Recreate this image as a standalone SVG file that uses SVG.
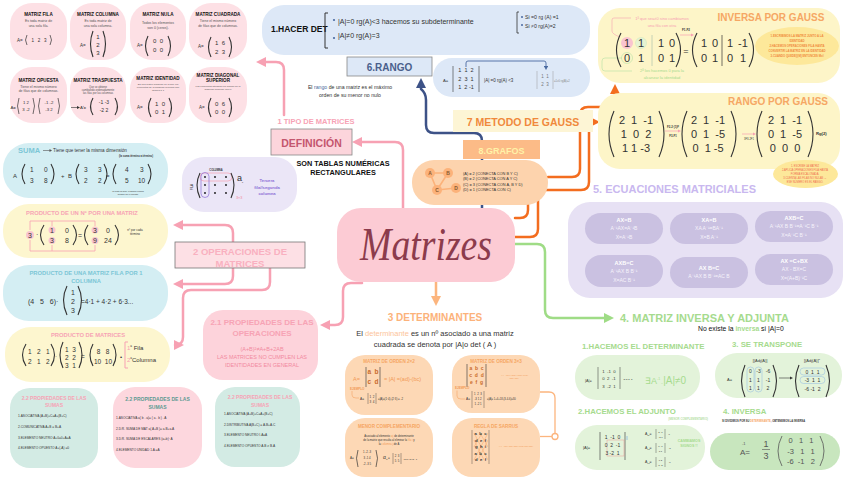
<svg xmlns="http://www.w3.org/2000/svg" width="848" height="477" viewBox="0 0 848 477">
<defs>
<style>
svg{fill:#333}
text{font-family:"Liberation Sans",Arial,sans-serif}
.c{text-anchor:middle}
.e{text-anchor:end}
.b{font-weight:bold}
.pr{fill:none;stroke:#333;stroke-width:0.7}
.prb{fill:none;stroke:#333;stroke-width:1.1}
.pk{fill:#fde0e5}
.cy{fill:#d4eef3}
.yl{fill:#fdf6cf}
.gt{fill:#d3ebe4}
.pe{fill:#fdd8b5}
.gr{fill:#e3f3da}
.eq{fill:#cac1e1}
.con{fill:none;stroke-width:2.5;stroke-linecap:round;stroke-linejoin:round}
.tt{font-size:4.6px;font-weight:bold;fill:#111}
.st{font-size:3.5px;fill:#555}
.ph{font-weight:bold;fill:#f7a3b5}
.et{font-size:5px;fill:#f6f3fb;text-anchor:middle}
.eb{font-size:5.5px;font-weight:bold;fill:#fff;text-anchor:middle}
.gh{font-weight:bold;fill:#a6db8e}
.oh{font-weight:bold;fill:#f6a764}
.scr{font-family:"Liberation Serif","DejaVu Serif",serif;font-style:italic}
</style>
<marker id="ap" viewBox="0 0 10 10" refX="3" refY="5" markerWidth="4" markerHeight="4" orient="auto"><path d="M0,0 L10,5 L0,10 z" fill="#f7a1b3"/></marker>
<marker id="ab" viewBox="0 0 10 10" refX="3" refY="5" markerWidth="4" markerHeight="4" orient="auto"><path d="M0,0 L10,5 L0,10 z" fill="#3d5287"/></marker>
<marker id="ao" viewBox="0 0 10 10" refX="3" refY="5" markerWidth="4" markerHeight="4" orient="auto"><path d="M0,0 L10,5 L0,10 z" fill="#f36d1f"/></marker>
<marker id="ag" viewBox="0 0 10 10" refX="3" refY="5" markerWidth="4" markerHeight="4" orient="auto"><path d="M0,0 L10,5 L0,10 z" fill="#9fdc86"/></marker>
<marker id="ape" viewBox="0 0 10 10" refX="3" refY="5" markerWidth="4" markerHeight="4" orient="auto"><path d="M0,0 L10,5 L0,10 z" fill="#fcb57e"/></marker>
<marker id="asb" viewBox="0 0 10 10" refX="3" refY="5" markerWidth="5" markerHeight="5" orient="auto"><path d="M0,0 L10,5 L0,10 z" fill="#4a6aa0"/></marker>
</defs>
<rect width="848" height="477" fill="#ffffff"/>

<!-- connectors -->
<g id="connectors">
<path class="con" stroke="#f7a1b3" d="M403 208 V150 Q403 142 395 142 H359" marker-end="url(#ap)"/>
<path class="con" stroke="#f7a1b3" d="M284 115 V70 Q284 62 276 62 H263" marker-end="url(#ap)"/>
<path class="con" stroke="#f7a1b3" d="M233 242 V233 Q233 225 225 225 H180" marker-end="url(#ap)"/>
<path class="con" stroke="#f7a1b3" d="M233 268 V276 Q233 284 225 284 H180" marker-end="url(#ap)"/>
<path class="con" stroke="#f7a1b3" d="M270 268 V282 Q270 290 262 290 H191 Q183 290 183 298 V337 Q183 345 175 345 H177" marker-end="url(#ap)"/>
<path class="con" stroke="#f7a1b3" d="M362 283 H351 Q343 283 343 291 V317 Q343 325 335 325 H327" marker-end="url(#ap)"/>
<path class="con" stroke="#3d5287" d="M482 208 V141 Q482 133 474 133 H434 Q426 133 426 125 V100 Q426 93 421 89 V85" marker-end="url(#ab)"/>
<path class="con" stroke="#f36d1f" d="M548 177 H572 Q580 177 580 169 V115 Q580 107 588 107 H607 Q615 107 615 99 V91" marker-end="url(#ao)"/>
<path class="con" stroke="#f36d1f" d="M515 237 H530 Q538 237 538 229 V198 Q538 190 546 190 H581 Q589 190 589 182 V130 Q589 122 593 122" marker-end="url(#ao)"/>
<path class="con" stroke="#f36d1f" d="M515 218 H520 Q528 218 528 210 V204"/>
<path class="con" stroke="#9fdc86" d="M515 244 H537 Q545 244 545 252 V310 Q545 318 553 318 H607" marker-end="url(#ag)"/>
<path class="con" stroke="#fcb57e" d="M436 282 V299" marker-end="url(#ape)"/>
<path fill="none" stroke="#fcb57e" stroke-width="1.3" d="M540 392 H549 Q555 392 555 398 V433"/>
<circle cx="555" cy="436.5" r="3" fill="none" stroke="#fcb57e" stroke-width="1.3"/>
<path fill="none" stroke="#fcb57e" stroke-width="1.3" d="M552 436.5 H540"/>
</g>

<!-- top-left types -->
<g id="matriz-fila">
<rect x="10" y="3" width="57" height="57" rx="22" class="pk"/>
<text x="38.5" y="16" class="c tt">MATRIZ FILA</text>
<text x="38.5" y="22" class="c st">Es toda matriz de</text>
<text x="38.5" y="26.5" class="c st">una sola fila.</text>
<text x="17" y="42" font-size="4.5">A=</text>
<path class="pr" d="M27 35 Q24 40 27 45"/>
<text x="39" y="42" class="c" font-size="4.5" xml:space="preserve">1   2   3</text>
<path class="pr" d="M50 35 Q53 40 50 45"/>
</g>
<g id="matriz-columna">
<rect x="70" y="3" width="56" height="57" rx="22" class="pk"/>
<text x="98" y="16" class="c tt">MATRIZ COLUMNA</text>
<text x="98" y="22" class="c st">Es toda matriz de</text>
<text x="98" y="26.5" class="c st">una sola columna.</text>
<text x="80" y="47" font-size="4.5">A=</text>
<path class="prb" d="M93 31 Q88 44 93 57"/>
<text x="98" y="39" class="c" font-size="6">1</text>
<text x="98" y="47" class="c" font-size="6">2</text>
<text x="98" y="55" class="c" font-size="6">3</text>
<path class="prb" d="M103 31 Q108 44 103 57"/>
</g>
<g id="matriz-nula">
<rect x="130" y="3" width="56" height="57" rx="22" class="pk"/>
<text x="158" y="16" class="c tt">MATRIZ NULA</text>
<text x="158" y="24" class="c st">Todos los elementos</text>
<text x="158" y="28.5" class="c st">son 0 (ceros).</text>
<text x="137" y="47" font-size="4.5">A=</text>
<path class="prb" d="M148 36 Q143 46 148 56"/>
<text x="158" y="43" class="c" font-size="6" xml:space="preserve">0  0</text>
<text x="158" y="52" class="c" font-size="6" xml:space="preserve">0  0</text>
<path class="prb" d="M168 36 Q173 46 168 56"/>
</g>
<g id="matriz-cuadrada">
<rect x="189" y="3" width="58" height="57" rx="22" class="pk"/>
<text x="218" y="16" class="c tt">MATRIZ CUADRADA</text>
<text x="218" y="22" class="c st">Tiene el mismo número</text>
<text x="218" y="26.5" class="c st">de filas que de columnas.</text>
<text x="198" y="48" font-size="4.5">A=</text>
<path class="prb" d="M211 37 Q206 47 211 57"/>
<text x="220" y="45" class="c" font-size="6" xml:space="preserve">1  6</text>
<text x="220" y="54" class="c" font-size="6" xml:space="preserve">2  3</text>
<path class="prb" d="M229 37 Q234 47 229 57"/>
</g>
<g id="matriz-opuesta">
<rect x="10" y="67" width="57" height="56" rx="22" class="pk"/>
<text x="38.5" y="82" class="c tt">MATRIZ OPUESTA</text>
<text x="38.5" y="87.5" class="c st">Tiene el mismo número</text>
<text x="38.5" y="92" class="c st">de filas que de columnas.</text>
<text x="10.5" y="109" font-size="4.3">A=</text>
<path class="pr" d="M19 98 Q16 106 19 114"/>
<text x="26" y="104" class="c" font-size="4.3" xml:space="preserve">1 2</text>
<text x="26" y="111" class="c" font-size="4.3">3 -2</text>
<path class="pr" d="M33 98 Q36 106 33 114"/>
<path class="pr" d="M40 98 Q37 106 40 114"/>
<text x="49" y="104" class="c" font-size="4.3">-1 -2</text>
<text x="49" y="111" class="c" font-size="4.3">-3  2</text>
<path class="pr" d="M58 98 Q61 106 58 114"/>
</g>
<g id="matriz-traspuesta">
<rect x="70" y="67" width="56" height="56" rx="22" class="pk"/>
<text x="98" y="82" class="c tt">MATRIZ TRASPUESTA</text>
<text x="98" y="87.5" class="c" font-size="2.7" fill="#555">Que se obtiene</text>
<text x="98" y="90.8" class="c" font-size="2.7" fill="#555">cambiando ordenadamente</text>
<text x="98" y="94" class="c" font-size="2.7" fill="#555">las filas por las columnas</text>
<path d="M71 107.5 H78" stroke="#333" stroke-width="0.6"/>
<path d="M77 106 L80 107.5 L77 109 z" fill="#333"/>
<text x="80" y="109" font-size="4.3">A<tspan font-size="2.5" dy="-2">t</tspan><tspan dy="2">=</tspan></text>
<path class="prb" d="M93 98 Q88 106.5 93 115"/>
<text x="104" y="104" class="c" font-size="5">-1 -3</text>
<text x="104" y="112" class="c" font-size="5">-2  2</text>
<path class="prb" d="M115 98 Q120 106.5 115 115"/>
</g>
<g id="matriz-identidad">
<rect x="130" y="67" width="56" height="56" rx="22" class="pk"/>
<text x="158" y="80" class="c tt">MATRIZ IDENTIDAD</text>
<text x="158" y="85" class="c" font-size="2.5" fill="#555">Es una matriz diagonal en la que los</text>
<text x="158" y="88" class="c" font-size="2.5" fill="#555">elementos de la diagonal principal son</text>
<text x="158" y="91" class="c" font-size="2.5" fill="#555">iguales a 1</text>
<text x="137" y="109" font-size="4.5">A=</text>
<path class="prb" d="M151 98 Q146 107.5 151 117"/>
<text x="160" y="105.5" class="c" font-size="6" xml:space="preserve">1  0</text>
<text x="160" y="114" class="c" font-size="6" xml:space="preserve">0  1</text>
<path class="prb" d="M169 98 Q174 107.5 169 117"/>
</g>
<g id="matriz-diagonal-superior">
<rect x="189" y="67" width="58" height="56" rx="22" class="pk"/>
<text x="218" y="77" class="c tt">MATRIZ DIAGONAL</text>
<text x="218" y="82" class="c tt">SUPERIOR</text>
<text x="218" y="87" class="c" font-size="2.5" fill="#555">Los elementos situados por debajo de la</text>
<text x="218" y="90" class="c" font-size="2.5" fill="#555">diagonal principal, son 0</text>
<text x="199" y="109" font-size="4.5">A=</text>
<path class="prb" d="M211 98 Q206 107.5 211 117"/>
<text x="220" y="105.5" class="c" font-size="6" xml:space="preserve">0  6</text>
<text x="220" y="114" class="c" font-size="6" xml:space="preserve">0  0</text>
<path class="prb" d="M229 98 Q234 107.5 229 117"/>
</g>

<!-- operations column -->
<g id="suma">
<rect x="3" y="143" width="165" height="55" rx="26" class="cy"/>
<text x="18" y="153" font-size="7.5" font-weight="bold" fill="#7cc6d6">SUMA</text>
<path d="M43 150.5 H50" stroke="#555" stroke-width="0.6"/><path d="M49.5 149 L52 150.5 L49.5 152 z" fill="#555"/>
<text x="53" y="152" font-size="4.6">Tiene que tener la misma dimensión</text>
<text x="153" y="157" class="e b" font-size="2.6">(la suma término a término)</text>
<text x="13" y="178" font-size="6">A</text>
<path class="prb" d="M25 164 Q19 174 25 184"/>
<text x="30" y="172" font-size="6.5">1</text><text x="44" y="172" font-size="6.5">0</text>
<text x="30" y="182.5" font-size="6.5">3</text><text x="44" y="182.5" font-size="6.5">8</text>
<path class="prb" d="M51 164 Q57 174 51 184"/>
<text x="61" y="178" font-size="6">+</text>
<text x="68" y="178" font-size="6">B</text>
<path class="prb" d="M79 164 Q73 174 79 184"/>
<text x="84" y="172" font-size="6.5">3</text><text x="98" y="172" font-size="6.5">3</text>
<text x="84" y="182.5" font-size="6.5">2</text><text x="98" y="182.5" font-size="6.5">2</text>
<path class="prb" d="M104 164 Q110 174 104 184"/>
<text x="106" y="178" font-size="6">=</text>
<path class="prb" d="M116 164 Q110 174 116 184"/>
<text x="125" y="172" font-size="6.5">4</text><text x="140" y="172" font-size="6.5">3</text>
<text x="125" y="182.5" font-size="6.5">5</text><text x="138" y="182.5" font-size="6.5">10</text>
<path class="prb" d="M148 164 Q154 174 148 184"/>
<text x="128" y="192" class="c" font-size="2">La resta es igual, o también puedes</text>
<text x="128" y="195" class="c" font-size="2">sumarle por el opuesto</text>
</g>
<g id="producto-escalar">
<rect x="3" y="204" width="165" height="54" rx="26" class="yl"/>
<text x="82" y="215" class="c ph" font-size="5.8">PRODUCTO DE UN Nº POR UNA MATRIZ</text>
<path fill="none" stroke="#f7a1b3" stroke-width="0.8" d="M30 230 V221 H95 V226 M52 221 V226 M30 240 V251 H95 V245 M52 251 V245"/>
<circle cx="30" cy="235" r="4" fill="#f9c4cf"/>
<text x="30" y="237.5" class="c" font-size="7">3</text>
<text x="36" y="237" font-size="7">·</text>
<path class="prb" d="M44 225 Q37 235 44 245"/>
<circle cx="52" cy="230" r="3.5" fill="#f9c4cf"/><circle cx="52" cy="240.5" r="3.5" fill="#f9c4cf"/>
<text x="52" y="232.5" class="c" font-size="7">1</text><text x="67" y="232.5" class="c" font-size="7">0</text>
<text x="52" y="243" class="c" font-size="7">3</text><text x="67" y="243" class="c" font-size="7">8</text>
<path class="prb" d="M73 225 Q80 235 73 245"/>
<text x="78" y="237.5" font-size="7">=</text>
<path class="prb" d="M88 225 Q81 235 88 245"/>
<circle cx="95" cy="230" r="3.5" fill="#f9c4cf"/><circle cx="95" cy="240.5" r="3.5" fill="#f9c4cf"/>
<text x="95" y="232.5" class="c" font-size="7">3</text><text x="108" y="232.5" class="c" font-size="7">0</text>
<text x="95" y="243" class="c" font-size="7">9</text><text x="108" y="243" class="c" font-size="7">24</text>
<path class="prb" d="M115 225 Q122 235 115 245"/>
<text x="135" y="231" class="c" font-size="3">nº por cada</text>
<text x="135" y="235" class="c" font-size="3">término</text>
</g>
<g id="producto-fila-columna">
<rect x="3" y="265" width="165" height="56" rx="26" class="cy"/>
<text x="86" y="275" class="c b" font-size="5.8" fill="#7cc6d6">PRODUCTO DE  UNA MATRIZ FILA POR 1</text>
<text x="86" y="283" class="c b" font-size="5.8" fill="#7cc6d6">COLUMNA</text>
<text x="28" y="304" font-size="7" xml:space="preserve">(4   5   6)·</text>
<path class="prb" d="M67 286 Q60 300 67 315"/>
<text x="73" y="295" class="c" font-size="7">1</text>
<text x="73" y="304" class="c" font-size="7">2</text>
<text x="73" y="313" class="c" font-size="7">3</text>
<path class="prb" d="M78 286 Q85 300 78 315"/>
<text x="81" y="304" font-size="6.5">=4·1 + 4·2 + 6·3...</text>
</g>
<g id="producto-matrices">
<rect x="5" y="327" width="165" height="55" rx="26" class="yl"/>
<text x="88" y="337" class="c ph" font-size="5.8">PRODUCTO DE  MATRICES</text>
<path class="prb" d="M26 344 Q19 355 26 366"/>
<text x="28" y="354" font-size="6.5" xml:space="preserve">1   2   1</text>
<text x="28" y="364" font-size="6.5" xml:space="preserve">2   1   2</text>
<path class="prb" d="M51 344 Q58 355 51 366"/>
<text x="55" y="358" font-size="6">·</text>
<path class="prb" d="M63 342 Q57 355 63 368"/>
<text x="65" y="352" font-size="6.5" xml:space="preserve">1  3</text>
<text x="65" y="360" font-size="6.5" xml:space="preserve">2  2</text>
<text x="65" y="368" font-size="6.5" xml:space="preserve">3  1</text>
<path class="prb" d="M79 342 Q85 355 79 368"/>
<text x="81" y="359" font-size="6.5">=</text>
<path class="prb" d="M93 344 Q87 355 93 366"/>
<text x="103" y="354" class="c" font-size="6.5" xml:space="preserve">8   8</text>
<text x="103" y="364" class="c" font-size="6.5" xml:space="preserve">10  10</text>
<path class="prb" d="M113 344 Q119 355 113 366"/>
<text x="120" y="359" font-size="6">•</text>
<path fill="none" stroke="#f7a1b3" stroke-width="1" d="M128 342 H125 V368 H128"/>
<text x="127" y="350" font-size="6"><tspan fill="#f7a1b3">1</tspan><tspan font-size="3" dy="-3">a</tspan><tspan dy="3"> Fila</tspan></text>
<text x="127" y="362" font-size="6"><tspan fill="#f7a1b3">2</tspan><tspan font-size="3" dy="-3">a</tspan><tspan dy="3">Columna</tspan></text>
</g>
<g id="propiedades-sumas-1">
<rect x="10" y="388" width="88" height="80" rx="20" class="gt"/>
<text x="54" y="400" class="c ph" font-size="5">2.2 PROPIEDADES DE LAS</text>
<text x="54" y="407" class="c ph" font-size="5">SUMAS</text>
<text x="18" y="417" font-size="3.2">1.ASOCIATIVA (A+B)+C=A+(B+C)</text>
<text x="18" y="428" font-size="3.2">2.COMUNICATIVA A+B = B+A</text>
<text x="18" y="438.5" font-size="3.2">3.ELEMENTO NEUTRO A+0=0+A=A</text>
<text x="18" y="449" font-size="3.2">4.ELEMENTO OPUESTO A+(-A) =0</text>
</g>
<g id="propiedades-sumas-2">
<rect x="113" y="387" width="89" height="81" rx="22" fill="#fdd7de"/>
<text x="157.5" y="401" class="c b" font-size="5" fill="#5e9a92">2.2 PROPIEDADES DE LAS</text>
<text x="157.5" y="408.5" class="c b" font-size="5" fill="#5e9a92">SUMAS</text>
<text x="116" y="419" font-size="3.2">1.ASOCIATIVA a( b . a)= ( a . b ) . A</text>
<text x="116" y="429.5" font-size="3.2">2.D.R. SUMA DE  MAT a( A+B )= a.B+a.A</text>
<text x="116" y="440" font-size="3.2">3.D.R. SUMA DE ESCALARES (a+b)· A</text>
<text x="116" y="450.5" font-size="3.2">4.ELEMENTO UNIDAD 1.A =A</text>
</g>
<g id="propiedades-sumas-3">
<rect x="215" y="387" width="85" height="80" rx="20" class="gt"/>
<text x="260" y="399" class="c ph" font-size="5">2.2 PROPIEDADES DE LAS</text>
<text x="260" y="406.5" class="c ph" font-size="5">SUMAS</text>
<text x="224" y="415" font-size="3.2">1.ASOCIATIVA (A+B)+C=A+(B+C)</text>
<text x="224" y="425.5" font-size="3.2">2.DISTRIBUTIVA  A(B+C) = A.B+A.C</text>
<text x="224" y="436" font-size="3.2">3.ELEMENTO NEUTRO I.A=A</text>
<text x="224" y="446.5" font-size="3.2">4.ELEMENTO OPUESTO A.B ≠ B.A</text>
</g>
<g id="propiedades-operaciones">
<rect x="203" y="310" width="115" height="70" rx="20" fill="#fdd3db"/>
<text x="262" y="325" class="c ph" font-size="8">2.1 PROPIEDADES DE LAS</text>
<text x="262" y="336" class="c ph" font-size="8">OPERACIONES</text>
<text x="262" y="351" class="c" font-size="5.5" fill="#f28aa0">(A+B)²≠A+B+2AB</text>
<text x="262" y="359" class="c" font-size="5.5" fill="#f28aa0">LAS MATRICES NO CUMPLEN LAS</text>
<text x="262" y="367" class="c" font-size="5.5" fill="#f28aa0">IDENTIDADES EN GENERAL</text>
</g>
<g id="operaciones">
<rect x="175" y="242" width="130" height="26" fill="#fde0e5" stroke="#777" stroke-width="0.8"/>
<text x="240" y="255" class="c b" font-size="9.5" fill="#f9b0c0">2 OPERACIONES DE</text>
<text x="240" y="267" class="c b" font-size="9.5" fill="#f9b0c0">MATRICES</text>
</g>

<!-- definition -->
<g id="tipo-matrices">
<text x="316" y="124" class="c ph" font-size="7.5">1 TIPO DE MATRICES</text>
</g>
<g id="definicion">
<rect x="271" y="129" width="81" height="26" fill="#fcd5dc" stroke="#888" stroke-width="0.8"/>
<text x="311.5" y="147" class="c b" font-size="10.5" fill="#c4566e">DEFINICIÓN</text>
<text x="343" y="166" class="c b" font-size="7.3" fill="#111">SON TABLAS NUMÉRICAS</text>
<text x="343" y="175" class="c b" font-size="7.3" fill="#111">RECTANGULARES</text>
</g>
<g id="fila-columna">
<rect x="182" y="157" width="115" height="55" rx="22" fill="#ebe6f7"/>
<text transform="translate(193,187) rotate(-90)" class="c b" font-size="2.6">FILA</text>
<text x="216" y="171" class="c b" font-size="2.6">COLUMNA</text>
<path class="prb" d="M200 173 Q194 185 200 198"/>
<rect x="200" y="173" width="32" height="8" rx="4" fill="none" stroke="#f7a1b3" stroke-width="0.7"/>
<rect x="201" y="172.5" width="8" height="25" rx="4" fill="none" stroke="#8b6fd6" stroke-width="0.7"/>
<g fill="#111"><circle cx="205" cy="177" r="0.9"/><circle cx="215" cy="177" r="0.9"/><circle cx="226" cy="177" r="0.9"/>
<circle cx="205" cy="185" r="0.9"/><circle cx="215" cy="185" r="0.9"/><circle cx="226" cy="185" r="0.9"/>
<circle cx="205" cy="193" r="0.9"/><circle cx="215" cy="193" r="0.9"/><circle cx="226" cy="193" r="0.9"/></g>
<path class="prb" d="M231 173 Q237 185 231 198"/>
<text x="237" y="181" font-size="9">a<tspan font-size="2.5" dy="1.5">ij</tspan></text>
<text x="236" y="199" font-size="3.8" fill="#f28aa0">3×3</text>
<text x="267" y="182" class="c b" font-size="4.2" fill="#8b6fd6">Tercera</text>
<text x="267" y="188.5" class="c b" font-size="4.2" fill="#8b6fd6">fila//segunda</text>
<text x="267" y="195" class="c b" font-size="4.2" fill="#8b6fd6">columna</text>
</g>

<!-- center -->
<g id="matrizes">
<rect x="337" y="208" width="178" height="74" rx="24" fill="#fccbd4"/>
<text x="426" y="260" class="c scr" font-size="46" fill="#8c3b4c" textLength="132" lengthAdjust="spacingAndGlyphs">Matrizes</text>
</g>

<!-- rango -->
<g id="hacer-det">
<rect x="262" y="5" width="328" height="50" rx="22" fill="#dde8f7"/>
<text x="271" y="32" class="b" font-size="8.5" fill="#111">1.HACER DET</text>
<path fill="none" stroke="#333" stroke-width="1" d="M328 13 H325 V48 H328"/>
<circle cx="334" cy="20" r="1.1" fill="#4a6aa0"/>
<text x="338" y="24" font-size="7">|A|=0 rg(A)&lt;3  hacemos su subdeterminante</text>
<path fill="none" stroke="#333" stroke-width="0.8" d="M519 12 H517 V33 H519"/>
<circle cx="522" cy="17" r="1" fill="#4a6aa0"/>
<text x="525" y="19" font-size="5.2">Si =0 rg (A) =1</text>
<circle cx="522" cy="25" r="1" fill="#4a6aa0"/>
<text x="525" y="28" font-size="5.2">Si ≠0 rg(A)=2</text>
<circle cx="334" cy="38" r="1.1" fill="#4a6aa0"/>
<text x="338" y="38" font-size="7">|A|≠0 rg(A)=3</text>
</g>
<g id="rango">
<rect x="347" y="57" width="85" height="19" fill="#dde8f7" stroke="#888" stroke-width="0.8"/>
<text x="389.5" y="71" class="c b" font-size="10" fill="#4a5f8c">6.RANGO</text>
<text x="350" y="89" class="c" font-size="5.2">El <tspan fill="#4a6aa0">rango</tspan> de una matriz es el máximo</text>
<text x="350" y="97" class="c" font-size="5.2">orden de su menor no nulo</text>
</g>
<g id="rango-ejemplo">
<rect x="433" y="58" width="157" height="39" rx="19" fill="#dde8f7"/>
<path fill="none" stroke="#4a6aa0" stroke-width="0.9" d="M466 67 V63 Q466 61 468 61 H544 Q546 61 546 63 V67" marker-end="url(#asb)"/>
<text x="443" y="82" font-size="4.2">A=</text>
<path fill="none" stroke="#333" stroke-width="0.6" d="M453 66 V92 M479 66 V92"/>
<text x="466" y="72" class="c" font-size="5.5" xml:space="preserve">1  1  2</text>
<text x="466" y="80.5" class="c" font-size="5.5" xml:space="preserve">2  3  1</text>
<text x="466" y="89" class="c" font-size="5.5" xml:space="preserve">1  2 -1</text>
<text x="484" y="82" font-size="4.5">|A| =0 rg(A) &lt;3</text>
<path fill="none" stroke="#999" stroke-width="0.5" d="M537 71 V89 M553 71 V89"/>
<text x="545" y="78" class="c" font-size="4.5" fill="#777" xml:space="preserve">1  1</text>
<text x="545" y="86" class="c" font-size="4.5" fill="#777" xml:space="preserve">2  3</text>
<text x="554" y="82" font-size="2.7" fill="#888">=1≠0 rg(A)=2</text>
</g>

<!-- gauss / grafos -->
<g id="metodo-gauss">
<rect x="453" y="110" width="140" height="22" fill="#fdf5d5"/>
<text x="523" y="126" class="c b" font-size="10.5" fill="#f0893c">7 METODO DE GAUSS</text>
</g>
<g id="grafos">
<rect x="412" y="160" width="136" height="45" rx="22" fill="#fdd3ad"/>
<rect x="463" y="140" width="77" height="19" fill="#fcbb87"/>
<text x="501.5" y="154" class="c b" font-size="9" fill="#fff3a8">8.GRAFOS</text>
<path fill="none" stroke="#fcb27a" stroke-width="1.6" d="M430 173 L448 173 L437 190 Z M437 190 L456 188"/>
<g fill="#fcb27a"><circle cx="430" cy="173" r="5"/><circle cx="448" cy="173" r="5"/><circle cx="437" cy="190" r="5"/><circle cx="456" cy="188" r="5"/></g>
<text x="430" y="174.8" class="c b" font-size="5" fill="#8a5a30">A</text><text x="448" y="174.8" class="c b" font-size="5" fill="#8a5a30">B</text><text x="437" y="191.8" class="c b" font-size="5" fill="#8a5a30">C</text><text x="456" y="189.8" class="c b" font-size="5" fill="#8a5a30">D</text>
<text x="463" y="174.5" font-size="3.9">(A) = 2 (CONECTA CON B Y C)</text>
<text x="463" y="180" font-size="3.9">(B) = 2 (CONECTA CON A Y C)</text>
<text x="463" y="185.5" font-size="3.9">(C) = 3 (CONECTA CON A, B Y D)</text>
<text x="463" y="191" font-size="3.9">(D) = 1 (CONECTA CON C)</text>
</g>

<g id="inversa-gauss">
<rect x="598" y="8" width="242" height="75" rx="22" fill="#fdf5c8"/>
<text x="771" y="21" class="c oh" font-size="10">INVERSA POR GAUSS</text>
<text x="662" y="20" class="c" font-size="4" fill="#f7a1b3">1ª que sea≠0 sino cambiamos</text>
<text x="662" y="26.5" class="c" font-size="4" fill="#f7a1b3">una fila con otra</text>
<path fill="none" stroke="#f7a1b3" stroke-width="0.6" d="M631 18 H614 Q612 18 612 20 V31 Q612 34 620 37"/>
<circle cx="627" cy="43" r="6" fill="#f9c4cf"/>
<circle cx="641" cy="43" r="5.5" fill="#e6f3d2" stroke="#c8e6be" stroke-width="0.5"/>
<circle cx="627" cy="58" r="5.5" fill="none" stroke="#b7e0a4" stroke-width="0.6"/>
<path fill="none" stroke="#b7e0a4" stroke-width="0.6" d="M622 58 H605 Q602 58 602 61 V68 Q602 71 605 71 H632"/>
<text x="662" y="72" class="c" font-size="4" fill="#a6db8e">2ª los hacemos 0 para la</text>
<text x="662" y="79" class="c" font-size="4" fill="#a6db8e">alcanzar la identidad</text>
<path class="prb" d="M621 33 Q612 50 621 67"/>
<text x="627" y="47" class="c" font-size="11">1</text><text x="641" y="47" class="c" font-size="11">1</text>
<text x="627" y="62" class="c" font-size="11">0</text><text x="641" y="62" class="c" font-size="11">1</text>
<path d="M652 35 V66" stroke="#b7c9b0" stroke-width="0.8"/>
<text x="661" y="47" class="c" font-size="11">1</text><text x="672" y="47" class="c" font-size="11">0</text>
<text x="661" y="62" class="c" font-size="11">0</text><text x="672" y="62" class="c" font-size="11">1</text>
<path class="prb" d="M676 33 Q685 50 676 67"/>
<text x="686" y="31" class="c b" font-size="3">F1-F2</text>
<path d="M680 35 H692" stroke="#f7a1b3" stroke-width="0.7"/><path d="M691 33.5 L694 35 L691 36.5 z" fill="#f7a1b3"/>
<text x="686" y="54" class="c" font-size="9">=</text>
<path class="prb" d="M697 33 Q688 50 697 67"/>
<text x="704" y="47" class="c" font-size="11">1</text><text x="715" y="47" class="c" font-size="11">0</text>
<text x="704" y="62" class="c" font-size="11">0</text><text x="715" y="62" class="c" font-size="11">1</text>
<path d="M722 35 V66" stroke="#333" stroke-width="0.7"/>
<text x="730" y="47" class="c" font-size="11">1</text><text x="743" y="47" class="c" font-size="11">-1</text>
<text x="730" y="62" class="c" font-size="11">0</text><text x="743" y="62" class="c" font-size="11">1</text>
<path class="prb" d="M749 33 Q758 50 749 67"/>
<ellipse cx="797" cy="46" rx="42" ry="19" fill="#fde89a"/>
<text x="797" y="37" class="c b" font-size="2.8" fill="#f08a3c">1.ESCRIBIMOS LA MATRIZ JUNTO A LA</text>
<text x="797" y="41.5" class="c b" font-size="2.8" fill="#f08a3c">IDENTIDAD</text>
<text x="797" y="46.5" class="c b" font-size="2.8" fill="#f08a3c">2.HACEMOS OPERACIONES FILA HASTA</text>
<text x="797" y="51.5" class="c b" font-size="2.8" fill="#f08a3c">CONVERTIR LA MATRIZ EN LA IDENTIDAD</text>
<text x="797" y="56.5" class="c b" font-size="2.8" fill="#f08a3c">3.CUANDO QUEDE[I|M] ENTONCES M=I</text>
</g>

<g id="rango-gauss">
<rect x="598" y="93" width="242" height="76" rx="22" fill="#fdf5c8"/>
<text x="778" y="105" class="c oh" font-size="10">RANGO POR GAUSS</text>
<path class="prb" d="M614 111 Q604 134 614 157"/>
<text x="636" y="124" class="c" font-size="11" xml:space="preserve">2  1  -1</text>
<text x="636" y="138" class="c" font-size="11" xml:space="preserve">1  0  2</text>
<text x="636" y="152" class="c" font-size="11" xml:space="preserve">1 1 -3</text>
<path class="prb" d="M659 111 Q669 134 659 157"/>
<text x="673" y="128" class="c b" font-size="2.8">F2-2·(1)F</text>
<path d="M665 131 H679" stroke="#f7a1b3" stroke-width="0.7"/><path d="M678 129.5 L681 131 L678 132.5 z" fill="#f7a1b3"/>
<text x="673" y="137" class="c b" font-size="2.8">F3-F1</text>
<path class="prb" d="M687 111 Q677 134 687 157"/>
<text x="708" y="124" class="c" font-size="11" xml:space="preserve">2  1  -1</text>
<text x="708" y="138" class="c" font-size="11" xml:space="preserve">0  1  -5</text>
<text x="708" y="152" class="c" font-size="11" xml:space="preserve">0  1 -5</text>
<path class="prb" d="M731 111 Q741 134 731 157"/>
<path d="M742 134 H754" stroke="#f7a1b3" stroke-width="0.7"/><path d="M753 132.5 L756 134 L753 135.5 z" fill="#f7a1b3"/>
<text x="749" y="140" class="c" font-size="2.6">3F3-2F1</text>
<path class="prb" d="M762 111 Q752 134 762 157"/>
<text x="785" y="124" class="c" font-size="11" xml:space="preserve">2  1  -1</text>
<text x="785" y="138" class="c" font-size="11" xml:space="preserve">0  1  -5</text>
<text x="785" y="152" class="c" font-size="11" xml:space="preserve">0  0  0</text>
<path class="prb" d="M808 111 Q818 134 808 157"/>
<text x="816" y="135" class="b" font-size="4.2">Rg(2)</text>
<ellipse cx="805.5" cy="174" rx="32.5" ry="14" fill="#fde89a"/>
<text x="805" y="167" class="c" font-size="2.6" fill="#ef6a4e">1. ESCRIBE LA MATRIZ</text>
<text x="805" y="171" class="c" font-size="2.6" fill="#ef6a4e">2.APLICA OPERACIONES FILA HASTA</text>
<text x="805" y="175" class="c" font-size="2.6" fill="#ef6a4e">FORMA ESCALONADA.</text>
<text x="805" y="179" class="c" font-size="2.6" fill="#ef6a4e">3.CUENTA LAS FILAS NO NULAS →</text>
<text x="805" y="183" class="c" font-size="2.6" fill="#ef6a4e">ESE NÚMERO ES EL RANGO.</text>
</g>

<!-- ecuaciones -->
<g id="ecuaciones">
<text x="593" y="193" class="b" font-size="11" fill="#c9b8ef">5. ECUACIONES MATRICIALES</text>
<rect x="568" y="202" width="275" height="96" rx="22" fill="#e7e1f4"/>
<rect x="585" y="213" width="78" height="31" rx="15.5" class="eq"/>
<text x="624" y="222" class="eb">AX=B</text>
<text x="624" y="230" class="et">A⁻¹AX=A⁻¹B</text>
<text x="624" y="238.5" class="et">X=A⁻¹B</text>
<rect x="670" y="213" width="78" height="31" rx="15.5" class="eq"/>
<text x="709" y="222" class="eb">XA=B</text>
<text x="709" y="230" class="et">XA A⁻¹=BA⁻¹</text>
<text x="709" y="238.5" class="et">X=B A⁻¹</text>
<rect x="755" y="211" width="78" height="31" rx="15.5" class="eq"/>
<text x="794" y="220" class="eb">AXB=C</text>
<text x="794" y="228" class="et">A⁻¹AX B B⁻¹=A⁻¹C B⁻¹</text>
<text x="794" y="236.5" class="et">X=A⁻¹C B⁻¹</text>
<rect x="585" y="255" width="78" height="32" rx="16" class="eq"/>
<text x="624" y="265" class="eb">AXB=C</text>
<text x="624" y="273" class="et">A⁻¹AX B B⁻¹</text>
<text x="624" y="281.5" class="et">X=AC B⁻¹</text>
<rect x="670" y="257" width="78" height="31" rx="15.5" class="eq"/>
<text x="709" y="270" class="eb">AX B=C</text>
<text x="709" y="278" class="et">A⁻¹AX B B⁻¹=AC B</text>
<rect x="755" y="254" width="78" height="31" rx="15.5" class="eq"/>
<text x="794" y="263" class="eb">AX =C+BX</text>
<text x="794" y="271" class="et">AX - BX=C</text>
<text x="794" y="279.5" class="et">X=(A+B)⁻¹C</text>
</g>

<!-- determinantes -->
<g id="determinantes">
<text x="435" y="321" class="c b" font-size="10" fill="#fcb27a">3 DETERMINANTES</text>
<text x="435" y="336" class="c" font-size="7.5">El <tspan fill="#fcc49a">determinante</tspan> es un nº asociado a una matriz</text>
<text x="435" y="346.5" class="c" font-size="7.5">cuadrada se denota por  |A|o det ( A )</text>
</g>
<g id="orden-2x2">
<rect x="345" y="355" width="88" height="60" rx="20" class="pe"/>
<text x="389" y="362.5" class="c oh" font-size="4.6">MATRIZ DE ORDEN 2×2</text>
<text x="353" y="381" font-size="5.5" fill="#f29a55">A=</text>
<path d="M366 367 V387 M380 367 V387" stroke="#333" stroke-width="0.6"/>
<text x="373" y="374" class="c b" font-size="6.5" fill="#c96a2a" xml:space="preserve">a  b</text>
<text x="373" y="384" class="c b" font-size="6.5" fill="#c96a2a" xml:space="preserve">c  d</text>
<text x="384" y="381" font-size="5.5" fill="#f29a55">= |A| =(ad)-(bc)</text>
<text x="350" y="389.5" class="b" font-size="3" fill="#f29a55">EJEMPLO</text>
<path fill="none" stroke="#f29a55" stroke-width="0.5" d="M352 391 V395 Q352 398 356 398 H359"/>
<text x="360" y="399.5" font-size="3.2">A=</text>
<path d="M368 393 V404 M376 393 V404" stroke="#333" stroke-width="0.4"/>
<text x="372" y="397.5" class="c" font-size="3" xml:space="preserve">1  2</text>
<text x="372" y="402.5" class="c" font-size="3" xml:space="preserve">3  4</text>
<text x="378" y="399.5" font-size="2.8">=|A|=(1·4)-(2·3) = -2</text>
</g>
<g id="orden-3x3">
<rect x="452" y="355" width="88" height="58" rx="20" class="pe"/>
<text x="496" y="362.5" class="c oh" font-size="4.6">MATRIZ DE ORDEN 3×3</text>
<path d="M467 364 V387 M486 364 V387" stroke="#333" stroke-width="0.6"/>
<text x="476.5" y="370" class="c b" font-size="5" fill="#c96a2a" xml:space="preserve">a  b  c</text>
<text x="476.5" y="377" class="c b" font-size="5" fill="#c96a2a" xml:space="preserve">c  d  d</text>
<text x="476.5" y="384" class="c b" font-size="5" fill="#c96a2a" xml:space="preserve">e  f  g</text>
<text x="514" y="375.5" class="c" font-size="2.2" fill="#f29a55">= |A| =(aei)+(bfg)+(cdh)-(ceg)-</text>
<text x="514" y="379" class="c" font-size="2.2" fill="#f29a55">(afh)-(bdi)</text>
<text x="455" y="389" class="b" font-size="3" fill="#f29a55">EJEMPLO</text>
<path fill="none" stroke="#f29a55" stroke-width="0.5" d="M457 390.5 V396 Q457 399 461 399 H465"/>
<text x="466" y="400" font-size="3.2">A=</text>
<path d="M472 391 V408 M484 391 V408" stroke="#333" stroke-width="0.4"/>
<text x="478" y="395" class="c" font-size="2.8" xml:space="preserve">1  2  3</text>
<text x="478" y="400" class="c" font-size="2.8">-3  1  2</text>
<text x="478" y="405" class="c" font-size="2.8">1  -2  1</text>
<text x="487" y="400" font-size="2.6">=|A|= 1+4+18-(3-4-6)=30</text>
</g>
<g id="menor-complementario">
<rect x="345" y="418" width="88" height="59" rx="20" class="pe"/>
<text x="389" y="428" class="c oh" font-size="4.6">MENOR COMPLEMENTARIO</text>
<text x="389" y="437" class="c" font-size="2.7">Asociado al elemento <tspan fill="#f29a55">aij</tspan> de determinante</text>
<text x="389" y="441" class="c" font-size="2.7">de la matriz que resulta al eliminar la <tspan fill="#f29a55">fila i</tspan> y</text>
<text x="389" y="445" class="c" font-size="2.7">la <tspan fill="#f29a55">columna j</tspan> de A</text>
<text x="350" y="459" font-size="3">A=</text>
<path class="pr" d="M358 450 Q355 458 358 467"/>
<text x="367" y="453" class="c" font-size="2.8">1  -2  -3</text>
<text x="367" y="459" class="c" font-size="2.8">3  -1   4</text>
<text x="367" y="465" class="c" font-size="2.8">-2  -3   5</text>
<path class="pr" d="M376 450 Q379 458 376 467"/>
<text x="383" y="459" font-size="5">α<tspan font-size="2.5" dy="1">a</tspan><tspan font-size="3" dy="-1"> =</tspan></text>
<path d="M393 453 V464 M401 453 V464" stroke="#333" stroke-width="0.4"/>
<text x="397" y="457" class="c" font-size="2.8" xml:space="preserve">2  3</text>
<text x="397" y="462" class="c" font-size="2.8" xml:space="preserve">5  5</text>
<text x="402" y="459.5" font-size="2.4">=(2·5)-(3·3)=1</text>
</g>
<g id="sarrus">
<rect x="452" y="418" width="88" height="59" rx="20" class="pe"/>
<text x="496" y="428" class="c oh" font-size="4.6">REGLA DE SARRUS</text>
<path d="M472 430 V464 M489 430 V464" stroke="#333" stroke-width="0.4"/>
<path d="M474 433 L488 460 M480 433 L488 447 M474 440 L484 460 M488 433 L474 460 M482 433 L474 447 M488 440 L478 460" stroke="#f6a764" stroke-width="0.5"/>
<text x="480.5" y="435" class="c b" font-size="4.3" xml:space="preserve">a  b  c</text>
<text x="480.5" y="441.5" class="c b" font-size="4.3" xml:space="preserve">d  e  f</text>
<text x="480.5" y="448" class="c b" font-size="4.3" xml:space="preserve">g  h  i</text>
<text x="480.5" y="454.5" class="c b" font-size="4.3" xml:space="preserve">a  b  c</text>
<text x="480.5" y="461" class="c b" font-size="4.3" xml:space="preserve">d  e  f</text>
<text x="515" y="447" class="c" font-size="2.3" fill="#f29a55">= |A| =(aei+dhc+gbf)-(ceg+fha+ibd)</text>
</g>

<!-- inversa y adjunta -->
<g id="inversa-adjunta">
<text x="620" y="322" class="gh" font-size="11">4. MATRIZ INVERSA Y ADJUNTA</text>
<text x="698" y="331" font-size="6.8" fill="#111">No existe la <tspan class="b" fill="#a6db8e">inversa</tspan> si |A|=0</text>
</g>
<g id="hacemos-determinante">
<text x="582" y="349" class="gh" font-size="7.8">1.HACEMOS EL DETERMINANTE</text>
<rect x="575" y="355" width="125" height="45" rx="22" class="gr"/>
<text x="585" y="382" font-size="3.8">|A|=</text>
<path d="M598 367 V389 M620 367 V389" stroke="#333" stroke-width="0.5"/>
<text x="609" y="372.5" class="c" font-size="4.3" xml:space="preserve">1  -1  0</text>
<text x="609" y="380" class="c" font-size="4.3" xml:space="preserve">0  2  -1</text>
<text x="609" y="387.5" class="c" font-size="4.3" xml:space="preserve">3  -2  1</text>
<text x="622" y="380" font-size="2.4">=2+3-2=3</text>
<text x="645" y="384" font-size="9" fill="#a6db8e">∃A<tspan font-size="3.5" dy="-4">-1</tspan><tspan font-size="3" dy="4">⇔</tspan><tspan font-size="10">|A|≠0</tspan></text>
</g>
<g id="se-transpone">
<text x="732" y="347" class="gh" font-size="7.8">3. SE TRANSPONE</text>
<rect x="715" y="353" width="127" height="45" rx="22" class="gr"/>
<text x="727" y="381" font-size="4">A=</text>
<text x="760" y="362" class="c" font-size="4">[(Adj(A)]</text>
<path class="prb" d="M745 365 Q738 381 745 397"/>
<rect x="747" y="367" width="7" height="25" rx="3.5" fill="none" stroke="#9cc3e0" stroke-width="0.6"/>
<rect x="755" y="367" width="7" height="25" rx="3.5" fill="none" stroke="#9cc3e0" stroke-width="0.6"/>
<text x="750.5" y="373" class="c" font-size="5">0</text><text x="758.5" y="373" class="c" font-size="5">-3</text><text x="768" y="373" class="c" font-size="5">-6</text>
<text x="750.5" y="381.5" class="c" font-size="5">1</text><text x="758.5" y="381.5" class="c" font-size="5">1</text><text x="768" y="381.5" class="c" font-size="5">-1</text>
<text x="750.5" y="390" class="c" font-size="5">1</text><text x="758.5" y="390" class="c" font-size="5">1</text><text x="768" y="390" class="c" font-size="5">2</text>
<path class="prb" d="M773 365 Q780 381 773 397"/>
<path d="M779 378 H791" stroke="#333" stroke-width="0.6"/><path d="M790 376.5 L793 378 L790 379.5 z" fill="#333"/>
<text x="812" y="362" class="c" font-size="4">[(Adj(A)]<tspan font-size="2.5" dy="-2">T</tspan></text>
<path class="prb" d="M799 365 Q792 381 799 397"/>
<rect x="800" y="368" width="25" height="7" rx="3.5" fill="none" stroke="#9cc3e0" stroke-width="0.6"/>
<rect x="800" y="376.5" width="25" height="7" rx="3.5" fill="none" stroke="#9cc3e0" stroke-width="0.6"/>
<text x="812.5" y="373.5" class="c" font-size="5" xml:space="preserve">0  1  1</text>
<text x="812.5" y="382" class="c" font-size="5" xml:space="preserve">-3  1  1</text>
<text x="812.5" y="390.5" class="c" font-size="5" xml:space="preserve">-6 -1  2</text>
<path class="prb" d="M826 365 Q833 381 826 397"/>
</g>
<g id="hacemos-adjunto">
<text x="578" y="414" class="gh" font-size="7.8">2.HACEMOS EL ADJUNTO</text>
<text x="708" y="420" class="e b" font-size="2.8" fill="#b9dfa9">(MENOR COMPLEMENTARIO)</text>
<rect x="575" y="425" width="130" height="45" rx="22" class="gr"/>
<text x="583" y="449" font-size="4">|A|=</text>
<path d="M600 432 V460 M625 432 V460" stroke="#333" stroke-width="0.6"/>
<rect x="607" y="440" width="17" height="16" fill="none" stroke="#e88" stroke-width="0.4"/>
<text x="612.5" y="439" class="c" font-size="5" xml:space="preserve">1  -1  0</text>
<text x="612.5" y="447" class="c" font-size="5" xml:space="preserve">0  2  -1</text>
<text x="612.5" y="455" class="c" font-size="5" xml:space="preserve">3 -2  1</text>
<path d="M627 436 V440" stroke="#9cc3e0" stroke-width="1"/>
<text x="645" y="435" font-size="3.5">A<tspan font-size="2" dy="1">11</tspan><tspan dy="-1">=</tspan></text>
<path d="M656 429 V439 M665 429 V439" stroke="#333" stroke-width="0.4"/>
<text x="660.5" y="433" class="c" font-size="2.5">2  -1</text><text x="660.5" y="437.5" class="c" font-size="2.5">-2  1</text>
<text x="667" y="435" font-size="2.5">=0</text>
<text x="645" y="449" font-size="3.5">A<tspan font-size="2" dy="1">12</tspan><tspan dy="-1">=</tspan></text>
<path d="M656 443 V453 M665 443 V453" stroke="#333" stroke-width="0.4"/>
<text x="660.5" y="447" class="c" font-size="2.5">0  -1</text><text x="660.5" y="451.5" class="c" font-size="2.5">3  1</text>
<text x="667" y="449" font-size="2.5">=-3</text>
<text x="645" y="463" font-size="3.5">A<tspan font-size="2" dy="1">13</tspan><tspan dy="-1">=</tspan></text>
<path d="M656 457 V467 M665 457 V467" stroke="#333" stroke-width="0.4"/>
<text x="660.5" y="461" class="c" font-size="2.5">0  2</text><text x="660.5" y="465.5" class="c" font-size="2.5">3  -2</text>
<text x="667" y="463" font-size="2.5">=-6</text>
<text x="689" y="442" class="c b" font-size="3.6" fill="#a6db8e">CAMBIAMOS</text>
<text x="689" y="446.5" class="c b" font-size="3.6" fill="#a6db8e">SIGNOS !!</text>
</g>
<g id="inversa">
<text x="723" y="414" class="gh" font-size="7.8">4. INVERSA</text>
<text x="722" y="422" class="b" font-size="2.6" fill="#333">SI DIVIDIMOS POR SU <tspan fill="#f6a764">DETERMINANTE</tspan>, OBTENEMOS LA INVERSA</text>
<rect x="710" y="433" width="130" height="37" rx="18.5" fill="#c8e6be"/>
<text x="742" y="445" font-size="4" fill="#555">-1</text>
<text x="740" y="455" font-size="8" fill="#555">A=</text>
<text x="766" y="447" class="c" font-size="9" fill="#555">1</text>
<path d="M762 449.5 H770" stroke="#555" stroke-width="0.6"/>
<text x="766" y="459" class="c" font-size="9" fill="#555">3</text>
<path fill="none" stroke="#555" stroke-width="0.8" d="M782 436 Q774 451 782 466"/>
<text x="801" y="443" class="c" font-size="7.5" fill="#555" xml:space="preserve">0   1   1</text>
<text x="801" y="453.5" class="c" font-size="7.5" fill="#555" xml:space="preserve">-3   1   1</text>
<text x="801" y="464" class="c" font-size="7.5" fill="#555" xml:space="preserve">-6  -1   2</text>
<path fill="none" stroke="#555" stroke-width="0.8" d="M820 436 Q828 451 820 466"/>
</g>
</svg>
